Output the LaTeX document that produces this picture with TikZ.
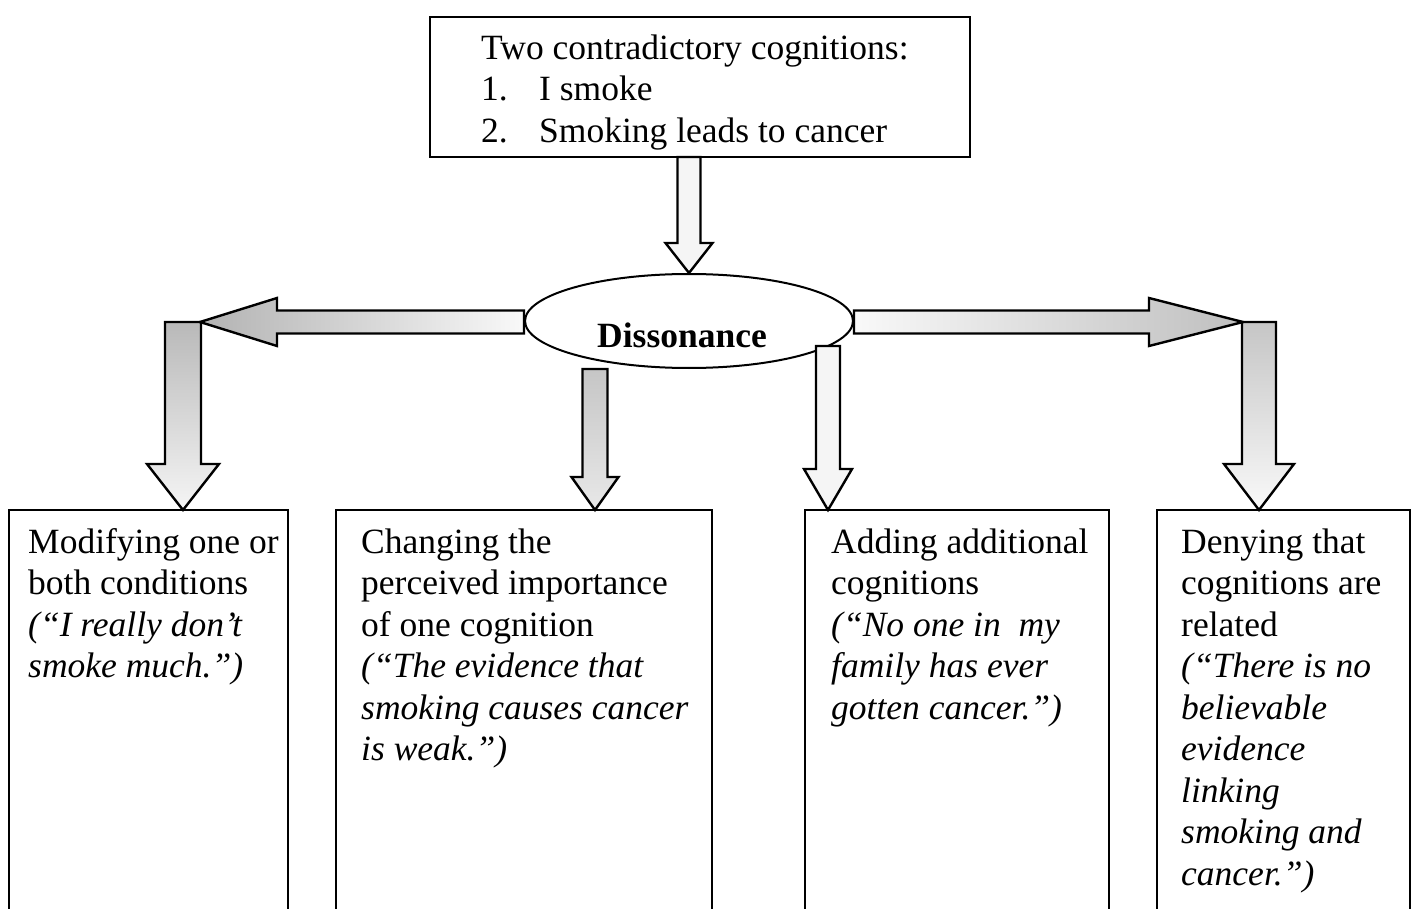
\documentclass[tikz,border=0pt]{standalone}
\usepackage{fontspec}
\setmainfont{Liberation Serif}
\usetikzlibrary{shapes.geometric,calc}

% fixed first-line height so every text block starts at a known baseline
\newcommand{\topstrut}{\rule{0pt}{30pt}}

% downward block arrow: style, tail point, tip point, shaft half width, head half width, head length
\newcommand{\vblock}[6]{%
  \path[blk,#1] let \p1=(#2), \p2=(#3) in
    (\x2,\y2) -- ({\x2-#5pt},{\y2+#6pt}) -- ({\x2-#4pt},{\y2+#6pt}) -- ({\x2-#4pt},\y1)
    -- ({\x2+#4pt},\y1) -- ({\x2+#4pt},{\y2+#6pt}) -- ({\x2+#5pt},{\y2+#6pt}) -- cycle;}

% horizontal block arrow: style, tail point, tip point, shaft half height, head half height, signed head length
\newcommand{\hblock}[6]{%
  \path[blk,#1] let \p1=(#2), \p2=(#3) in
    (\x2,\y2) -- ({\x2+(#6pt)},{\y2+#5pt}) -- ({\x2+(#6pt)},{\y2+#4pt}) -- (\x1,{\y2+#4pt})
    -- (\x1,{\y2-#4pt}) -- ({\x2+(#6pt)},{\y2-#4pt}) -- ({\x2+(#6pt)},{\y2-#5pt}) -- cycle;}

\tikzset{
  frame/.style={draw, line width=2pt, rectangle, inner sep=0pt, outer sep=0pt, anchor=north west},
  body/.style={font=\fontsize{35.5}{41.5}\selectfont, align=left, inner sep=0pt, anchor=north west},
  blk/.style={draw, line width=2.4pt, line join=miter},
}

\begin{document}
\begin{tikzpicture}[x=1pt,y=-1pt]
\useasboundingbox (0,0) rectangle (1416,909);
\clip (0,0) rectangle (1416,909);

% source box
\node[frame, minimum width=540pt, minimum height=140pt] (src) at (430,17) {};
\node[body] (srctxt) at (481,29)
  {\topstrut Two contradictory cognitions:\\
   \makebox[58pt][l]{1.}I smoke\\
   \makebox[58pt][l]{2.}Smoking leads to cancer};

% central state
\node[draw, ellipse, line width=2pt, minimum width=328pt, minimum height=94pt,
      inner sep=0pt, fill=white] (diss) at (689,321) {};
\node[font=\bfseries\fontsize{35.5}{41.5}\selectfont, anchor=base, inner sep=0pt]
  (disstxt) at (682,347) {Dissonance};

% four strategy boxes (open at the bottom)
\node[frame, minimum width=279pt, minimum height=430pt] (b1) at (9,510) {};
\node[frame, minimum width=376pt, minimum height=430pt] (b2) at (336,510) {};
\node[frame, minimum width=304pt, minimum height=430pt] (b3) at (805,510) {};
\node[frame, minimum width=253pt, minimum height=430pt] (b4) at (1157,510) {};

\node[body] (t1) at ($(b1.north west)+(19,13)$)
  {\topstrut Modifying one or\\both conditions\\
   \textit{(“I really don’t}\\\textit{smoke much.”)}};
\node[body] (t2) at ($(b2.north west)+(25,13)$)
  {\topstrut Changing the\\perceived importance\\of one cognition\\
   \textit{(“The evidence that}\\\textit{smoking causes cancer}\\\textit{is weak.”)}};
\node[body] (t3) at ($(b3.north west)+(26,13)$)
  {\topstrut Adding additional\\cognitions\\
   \textit{(“No one in\ \ my}\\\textit{family has ever}\\\textit{gotten cancer.”)}};
\node[body] (t4) at ($(b4.north west)+(24,13)$)
  {\topstrut Denying that\\cognitions are\\related\\
   \textit{(“There is no}\\\textit{believable}\\\textit{evidence}\\\textit{linking}\\
   \textit{smoking and}\\\textit{cancer.”)}};

% arrow end points
\coordinate (elbowL) at (200,322);
\coordinate (elbowR) at (1243,322);
\coordinate (tailC) at ($(diss.center)+(140,25)$);
\coordinate (inA) at ($(b1.north west)+(174,0)$);
\coordinate (inB) at ($(b2.north west)+(259,0)$);
\coordinate (inC) at ($(b3.north west)+(23,0)$);
\coordinate (inD) at ($(b4.north west)+(102,0)$);

% block arrows
\vblock{fill=gray!8}{src.south -| diss.north}{diss.north}{11.5}{23.5}{30}
\vblock{top color=gray!55, bottom color=gray!8}{elbowL}{inA}{18}{36}{46}
\hblock{left color=gray!60, right color=gray!5}{diss.west}{elbowL}{11.5}{24}{77}
\vblock{top color=gray!45, bottom color=gray!18}{inB |- diss.south}{inB}{12.5}{23.5}{33}
\vblock{fill=gray!8}{tailC}{inC}{12}{24}{41}
\vblock{top color=gray!45, bottom color=gray!5}{elbowR}{inD}{17}{35}{46}
\hblock{left color=gray!5, right color=gray!50}{diss.east}{elbowR}{11.5}{24}{-94}
\end{tikzpicture}
\end{document}
